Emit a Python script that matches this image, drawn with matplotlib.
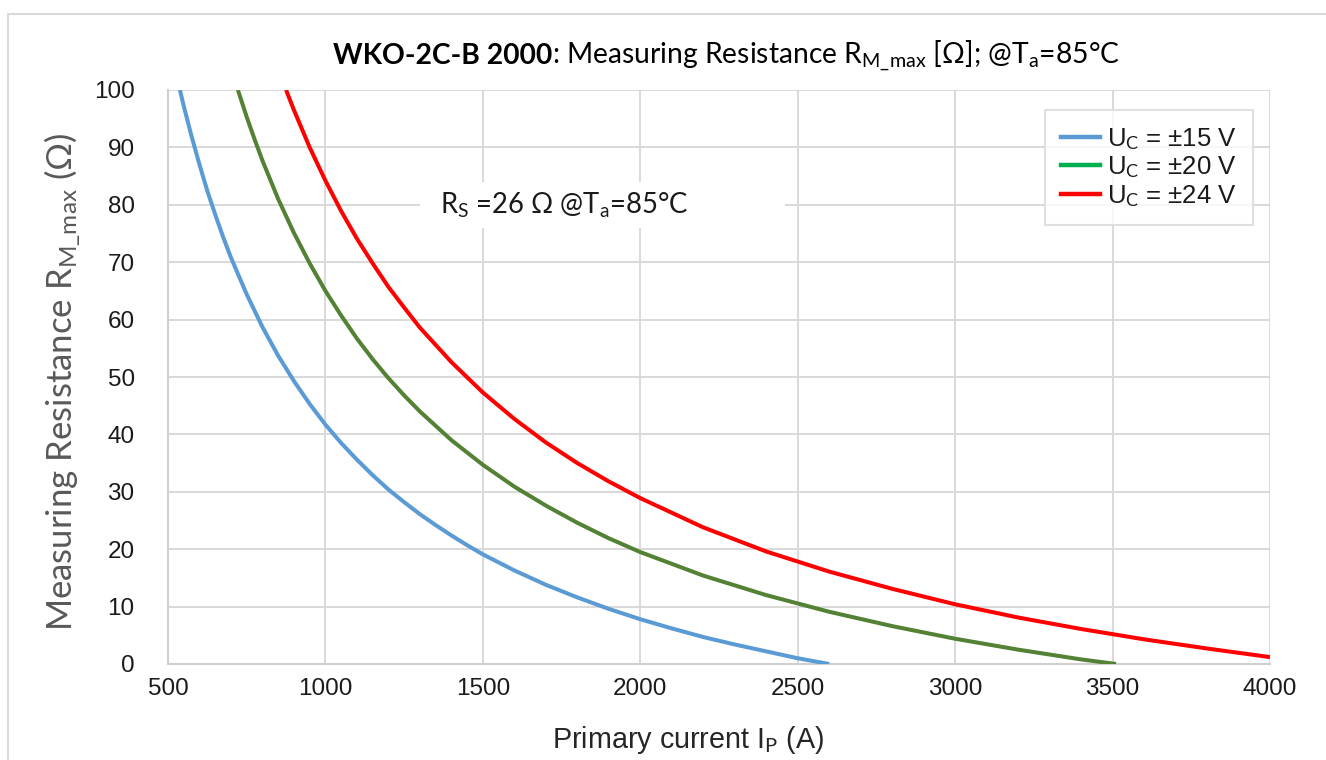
import matplotlib
matplotlib.use("Agg")
import matplotlib.pyplot as plt
from matplotlib.lines import Line2D
from matplotlib.patches import Rectangle

plt.rcParams['mathtext.fontset'] = 'custom'
plt.rcParams['mathtext.rm'] = 'Lato'
plt.rcParams['mathtext.it'] = 'Lato:italic'
plt.rcParams['mathtext.bf'] = 'Lato:bold'

# ---- data ----
ip_15 = [538, 550, 575, 600, 625, 650, 675, 700, 750, 800, 850, 900, 950, 1000, 1050,
         1100, 1150, 1200, 1250, 1300, 1350, 1400, 1450, 1500, 1600, 1700, 1800, 1900,
         2000, 2100, 2200, 2300, 2400, 2500, 2600]
rm_15 = [100.0, 97.2, 91.9, 87.0, 82.4, 78.3, 74.4, 70.8, 64.4, 58.7, 53.7, 49.3, 45.3,
         41.7, 38.5, 35.6, 32.9, 30.4, 28.2, 26.1, 24.2, 22.4, 20.7, 19.1, 16.3, 13.8,
         11.6, 9.6, 7.8, 6.2, 4.7, 3.4, 2.2, 1.0, 0.0]

ip_20 = [722, 750, 775, 800, 850, 900, 950, 1000, 1050, 1100, 1150, 1200, 1250, 1300,
         1400, 1500, 1600, 1700, 1800, 1900, 2000, 2200, 2400, 2600, 2800, 3000, 3200,
         3400, 3511]
rm_20 = [100.0, 95.3, 91.4, 87.7, 81.0, 75.1, 69.8, 65.0, 60.7, 56.7, 53.1, 49.8, 46.8,
         44.0, 39.0, 34.7, 30.9, 27.6, 24.6, 21.9, 19.5, 15.4, 12.0, 9.1, 6.6, 4.4, 2.5,
         0.8, 0.0]

ip_24 = [875, 900, 950, 1000, 1050, 1100, 1150, 1200, 1250, 1300, 1400, 1500, 1600,
         1700, 1800, 1900, 2000, 2200, 2400, 2600, 2800, 3000, 3200, 3400, 3600, 3800, 4000]
rm_24 = [100.0, 96.5, 90.0, 84.2, 78.9, 74.1, 69.8, 65.7, 62.1, 58.6, 52.6, 47.3, 42.7,
         38.6, 35.0, 31.8, 28.9, 23.8, 19.6, 16.1, 13.1, 10.4, 8.1, 6.1, 4.3, 2.7, 1.2]

labels = ["U$_\\mathrm{C}$ = ±15 V", "U$_\\mathrm{C}$ = ±20 V", "U$_\\mathrm{C}$ = ±24 V"]
line_colors = ["#5B9BD5", "#548235", "#FF0000"]
legend_colors = ["#5B9BD5", "#00B050", "#FF0000"]
x_ticks = [500, 1000, 1500, 2000, 2500, 3000, 3500, 4000]
y_ticks = [0, 10, 20, 30, 40, 50, 60, 70, 80, 90, 100]

W, H = 1326, 760
fig = plt.figure(figsize=(W / 100, H / 100), dpi=100)
ax = fig.add_axes([168 / W, 1 - 664 / H, (1270 - 168) / W, (664 - 90) / H])

# figure border
fig.patches.append(Rectangle((8 / W, -0.1), 1.2, 1 - 14 / H + 0.1, transform=fig.transFigure,
                             fill=False, edgecolor="#d9d9d9", lw=1.5, zorder=0))

for x, y, c in zip([ip_15, ip_20, ip_24], [rm_15, rm_20, rm_24], line_colors):
    ax.plot(x, y, color=c, lw=2.9, solid_capstyle='butt', solid_joinstyle='round', zorder=3)

ax.set_xlim(500, 4000)
ax.set_ylim(0, 100)
ax.set_xticks(x_ticks)
ax.set_yticks(y_ticks)
ax.grid(True, color="#d9d9d9", lw=1.4)
ax.set_axisbelow(True)
for s in ["top", "right"]:
    ax.spines[s].set_visible(False)
for s in ["left", "bottom"]:
    ax.spines[s].set_color("#d0d0d0")
    ax.spines[s].set_linewidth(1.5)
ax.tick_params(length=0, labelsize=17.5, colors="#1a1a1a")
ax.tick_params(axis='y', pad=24)
ax.tick_params(axis='x', pad=10)
for t in ax.get_xticklabels() + ax.get_yticklabels():
    t.set_family(["Liberation Sans", "DejaVu Sans"])

# white box behind the R_S annotation (covers the grid line)
ax.add_patch(Rectangle((1300, 76), 1160, 8, facecolor="white", edgecolor="none", zorder=1.5))
ax.text(1364, 80, "R$_\\mathrm{S}$ =26 Ω @T$_\\mathrm{a}$=85°C", fontsize=19.8,
        family=["Lato", "DejaVu Sans"], color="#1a1a1a", va="center", ha="left", zorder=4)

# axis labels
fig.text(62 / W, 1 - 382 / H, "Measuring Resistance R$_\\mathrm{M\\_max}$ (Ω)", rotation=90,
         fontsize=25, color="#595959", family=["Lato", "DejaVu Sans"], ha="center", va="center")
fig.text(688 / W, 1 - 740 / H, "Primary current I$_\\mathrm{P}$ (A)", fontsize=20.7,
         color="#262626", family=["Liberation Sans", "DejaVu Sans"], ha="center", va="center")

# title: bold part + regular part
ty = 1 - 64 / H
t1 = fig.text(333 / W, ty, "WKO-2C-B 2000", fontsize=20.3, fontweight="bold",
              family=["Lato", "DejaVu Sans"], ha="left", va="baseline", color="#000000")
fig.canvas.draw()
bb = t1.get_window_extent()
fig.text(bb.x1 / W, ty, ": Measuring Resistance R$_\\mathrm{M\\_max}$ [Ω]; @T$_\\mathrm{a}$=85°C",
         fontsize=20.3, family=["Lato", "DejaVu Sans"], ha="left", va="baseline", color="#000000")

handles = [Line2D([], [], color=c, lw=3.2) for c in legend_colors]
leg = fig.legend(handles, labels, loc="upper right", bbox_to_anchor=(1253 / W, 1 - 110 / H),
                 fontsize=18.5, frameon=True, fancybox=False, handlelength=1.5,
                 handletextpad=0.3, labelspacing=0.1, borderpad=0.62, borderaxespad=0)
leg.get_frame().set_edgecolor("#d9d9d9")
leg.get_frame().set_linewidth(1.5)
for t in leg.get_texts():
    t.set_family(["Liberation Sans", "DejaVu Sans"])
    t.set_color("#1a1a1a")

fig.savefig("out.png", dpi=100)
